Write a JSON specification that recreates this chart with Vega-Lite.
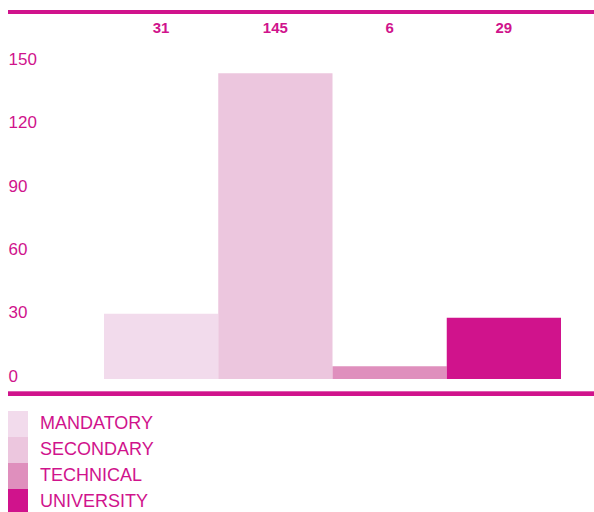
{
  "$schema": "https://vega.github.io/schema/vega-lite/v6.json",
  "autosize": {"type": "none"},
  "padding": {"left": 8, "top": 10, "right": 0, "bottom": 114},
  "width": 586,
  "height": 388,
  "background": "white",
  "config": {
    "view": {"stroke": null},
    "font": "Liberation Sans"
  },
  "data": {
    "values": [
      {"level": "MANDATORY", "value": 31},
      {"level": "SECONDARY", "value": 145},
      {"level": "TECHNICAL", "value": 6},
      {"level": "UNIVERSITY", "value": 29}
    ]
  },
  "encoding": {
    "x": {
      "field": "level",
      "type": "nominal",
      "sort": null,
      "axis": null,
      "scale": {"range": [96, 553], "paddingInner": 0, "paddingOuter": 0}
    }
  },
  "layer": [
    {
      "mark": {"type": "bar", "width": {"band": 1}},
      "encoding": {
        "y": {
          "field": "value",
          "type": "quantitative",
          "scale": {"domain": [-9, 175], "nice": false, "zero": false},
          "axis": {
            "values": [0, 30, 60, 90, 120, 150],
            "domain": false,
            "ticks": false,
            "tickSize": 0,
            "grid": false,
            "title": null,
            "labelAlign": "left",
            "labelPadding": 0,
            "labelBaseline": "middle",
            "labelOffset": -3,
            "labelFontSize": 17,
            "labelColor": "#d0138c",
            "labelFont": "Liberation Sans"
          }
        },
        "y2": {"datum": 0},
        "color": {
          "field": "level",
          "type": "nominal",
          "sort": ["MANDATORY", "SECONDARY", "TECHNICAL", "UNIVERSITY"],
          "scale": {
            "domain": ["MANDATORY", "SECONDARY", "TECHNICAL", "UNIVERSITY"],
            "range": ["#f2dbec", "#ecc6de", "#df8fbd", "#d0138c"]
          },
          "legend": {
            "title": null,
            "orient": "bottom",
            "direction": "vertical",
            "offset": 13,
            "padding": 0,
            "rowPadding": 0,
            "symbolType": "M-1,-1H0.54V1H-1Z",
            "symbolSize": 676,
            "symbolStrokeWidth": 0,
            "symbolOpacity": 1,
            "labelOffset": 6,
            "labelFontSize": 18,
            "labelColor": "#d0138c",
            "labelFont": "Liberation Sans"
          }
        }
      }
    },
    {
      "mark": {
        "type": "text",
        "fontSize": 15,
        "fontWeight": "bold",
        "color": "#d0138c",
        "baseline": "middle",
        "font": "Liberation Sans"
      },
      "encoding": {
        "y": {"datum": 166.4, "type": "quantitative"},
        "text": {"field": "value", "type": "quantitative"}
      }
    },
    {
      "mark": {"type": "rule", "color": "#d0138c", "strokeWidth": 4},
      "encoding": {"y": {"datum": 174, "type": "quantitative"}, "x": {"value": 0}, "x2": {"value": 586}}
    },
    {
      "mark": {"type": "rule", "color": "#d0138c", "strokeWidth": 4},
      "encoding": {"y": {"datum": -7, "type": "quantitative"}, "x": {"value": 0}, "x2": {"value": 586}}
    }
  ]
}
